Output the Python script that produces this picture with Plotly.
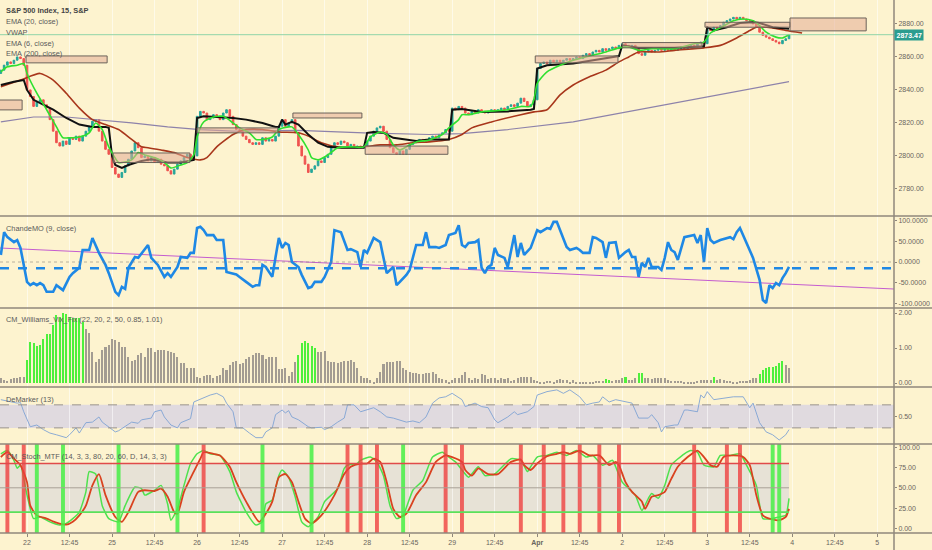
import plotly.graph_objects as go

# S&P 500, 15-minute bars. Bar 0-7 = end of the Mar 21 session, then 26 bars per session.
closes = [
    2852, 2855, 2857, 2856, 2858, 2860, 2859, 2855,
    # Mar 22
    2840, 2836, 2830, 2833, 2834, 2831, 2829, 2822, 2815, 2808, 2806, 2809, 2807,
    2811, 2810, 2812, 2809, 2812, 2815, 2818, 2821, 2822, 2815, 2809, 2804, 2801,
    # Mar 25
    2793, 2789, 2787, 2790, 2794, 2798, 2803, 2808, 2805, 2799, 2800, 2797, 2799,
    2796, 2798, 2795, 2794, 2791, 2789, 2792, 2795, 2797, 2799, 2801, 2799, 2800,
    # Mar 26
    2824, 2827, 2826, 2822, 2823, 2825, 2824, 2822, 2826, 2828, 2824, 2819, 2816,
    2815, 2812, 2810, 2808, 2807, 2808, 2807, 2811, 2809, 2810, 2809, 2812, 2818,
    # Mar 27
    2822, 2818, 2820, 2822, 2814, 2806, 2800, 2795, 2790, 2792, 2794, 2797, 2796,
    2799, 2801, 2805, 2808, 2807, 2809, 2808, 2806, 2807, 2805, 2806, 2805, 2806,
    # Mar 28
    2809, 2812, 2815, 2817, 2818, 2815, 2810, 2805, 2802, 2801, 2803, 2801, 2804,
    2807, 2808, 2809, 2810, 2809, 2810, 2811, 2812, 2811, 2813, 2814, 2816, 2815,
    # Mar 29
    2829, 2828, 2830, 2829, 2826, 2825, 2827, 2826, 2828, 2827, 2826, 2827, 2828,
    2827, 2828, 2829, 2828, 2830, 2831, 2830, 2832, 2835, 2833, 2830, 2831, 2834,
    # Apr 1
    2853, 2856, 2857, 2856, 2858, 2857, 2858, 2857, 2858, 2859, 2858, 2859, 2860,
    2859, 2861, 2862, 2861, 2863, 2864, 2863, 2865, 2864, 2865, 2866, 2865, 2867,
    # Apr 2
    2868, 2867, 2866, 2867, 2865, 2862, 2861, 2863, 2864, 2863, 2864, 2865, 2864,
    2865, 2864, 2865, 2864, 2865, 2866, 2865, 2866, 2867, 2866, 2868, 2869, 2868,
    # Apr 3
    2877, 2876, 2878, 2877, 2879, 2881, 2882, 2883, 2884, 2883, 2884, 2883, 2882,
    2882, 2880, 2878, 2875, 2873, 2872, 2871, 2870, 2869, 2868, 2870, 2871, 2873.47,
]
first_open = 2850
last_price = 2873.47

ema20_bar = [0, 6, 12, 16, 20, 24, 28, 32, 36, 40, 43, 45, 49, 53, 57, 61, 63, 66, 71, 75,
             80, 85, 91, 94, 98, 103, 111, 116, 121, 126, 131, 137, 141, 144, 150, 159, 163,
             167, 171, 175, 180, 185, 189, 192, 195, 201, 206, 215, 220, 225, 229, 231, 236,
             240, 245]
ema20_val = [2842, 2846, 2850, 2846, 2838, 2829, 2822, 2819, 2816, 2810, 2805.5, 2805, 2803.6,
             2802, 2799, 2797.6, 2799, 2805.5, 2813, 2816, 2816, 2814.5, 2814, 2812, 2808,
             2805.5, 2805.5, 2806.7, 2806.7, 2808, 2808.5, 2810, 2813, 2817, 2820.6, 2825,
             2826.7, 2828, 2837, 2843, 2848, 2852, 2857, 2860, 2863, 2863, 2864, 2865.5, 2867,
             2871.5, 2876, 2878, 2877.5, 2876, 2874.5]

ema6_bar = [0, 2, 5, 7, 8, 11, 14, 17, 19, 21, 24, 27, 29, 31, 33, 36, 37, 40, 42, 44, 47, 50,
            52, 55, 57, 59, 60, 62, 65, 68, 71, 73, 76, 78, 80, 83, 85, 88, 89, 91, 94, 95, 97,
            100, 103, 107, 111, 113, 116, 118, 120, 122, 124, 127, 131, 135, 137, 140, 141, 143,
            147, 155, 159, 162, 163, 164, 167, 171, 175, 180, 185, 189, 192, 195, 199, 206, 212,
            215, 217, 220, 224, 227, 230, 232, 234, 237, 239, 241]
ema6_val = [2851, 2854, 2855, 2856, 2850, 2838, 2828, 2817.6, 2811, 2811, 2811.5, 2814, 2820,
            2816, 2805.5, 2796, 2796, 2797.6, 2802, 2800.6, 2799, 2796, 2792.7, 2794.5, 2796,
            2800.6, 2811.5, 2820.6, 2823.6, 2824, 2820, 2817, 2814, 2810, 2810, 2811.5, 2816,
            2817.6, 2817.6, 2813, 2803.6, 2799, 2797.6, 2800.6, 2805, 2805.5, 2805.5, 2811.5,
            2814.5, 2813, 2806.7, 2803.6, 2805.5, 2808.5, 2809.7, 2813, 2817, 2822, 2825, 2825,
            2826.7, 2828, 2830, 2830, 2834, 2844, 2851, 2855, 2858, 2860.6, 2863, 2865.5, 2866,
            2864, 2865, 2865, 2868, 2869, 2874.5, 2877.6, 2882, 2883, 2882, 2879, 2875, 2872,
            2871.5, 2873.4]

vwap_bar = [0, 4, 7, 8, 10, 13, 16, 20, 24, 28, 32, 33, 34, 35, 37, 39, 43, 46, 51, 55, 58, 59,
            60, 62, 66, 71, 75, 80, 84, 85, 86, 87, 89, 91, 94, 97, 100, 104, 111, 112, 114, 117,
            120, 123, 127, 131, 136, 137, 138, 141, 147, 155, 162, 163, 164, 167, 175, 180, 188,
            189, 190, 195, 206, 215, 216, 218, 222, 226, 230, 232, 236, 241]
vwap_val = [2843, 2845, 2846, 2840, 2834, 2831, 2828, 2823, 2819, 2817.6, 2817.6, 2817, 2800,
            2794.5, 2792.7, 2794.5, 2797, 2798, 2796, 2796, 2797, 2797.6, 2823, 2824, 2823.6,
            2823, 2822, 2820, 2817.6, 2817.6, 2822, 2819, 2820.6, 2819, 2813, 2808, 2805.5, 2805,
            2805, 2814, 2814.5, 2814, 2811, 2810, 2809, 2810, 2810, 2810, 2828, 2828.5, 2826.7,
            2827, 2828, 2828.5, 2853, 2855, 2856, 2857.6, 2860, 2860.5, 2867, 2865.5, 2865.5,
            2866.5, 2878, 2876, 2878, 2880.6, 2881, 2880.6, 2878, 2877]

ema200_bar = [0, 10, 20, 30, 40, 51, 61, 71, 91, 111, 131, 141, 155, 175, 195, 214, 241]
ema200_val = [2820.6, 2823.6, 2823.6, 2822, 2820, 2817.6, 2816, 2815, 2815.5, 2814, 2813,
              2813.5, 2816, 2820.6, 2828, 2834.6, 2845]

# drawn supply / demand zones: (first bar, last bar, low, high)
zones = [
    (7.7, 32.5, 2856.4, 2860.6),
    (-5, 6.5, 2827.9, 2833.9),
    (34.3, 57.8, 2796, 2801.8),
    (60, 84.7, 2814, 2817),
    (89.3, 110.4, 2823, 2826),
    (111.4, 136.7, 2801, 2806),
    (163.4, 188.7, 2856.4, 2860.6),
    (190, 214.4, 2865.5, 2868.7),
    (215.3, 241.3, 2878, 2881),
    (241.3, 264.6, 2875.8, 2883.6),
]

cmo_bar = [0, 1, 2, 4, 5, 6, 8, 9, 10, 11, 12, 13, 14, 16, 17, 19, 21, 22, 24, 25, 27, 28, 30,
           32, 33, 35, 36, 37, 38, 39, 41, 42, 45, 46, 48, 50, 51, 52, 54, 55, 57, 58, 59, 60,
           61, 62, 63, 65, 66, 68, 69, 71, 72, 73, 74, 75, 77, 78, 79, 80, 81, 83, 84, 85, 86,
           87, 88, 89, 91, 92, 94, 95, 96, 98, 99, 101, 102, 104, 106, 107, 109, 110, 111, 112,
           114, 116, 117, 118, 120, 121, 122, 124, 125, 127, 129, 130, 131, 133, 134, 136, 137,
           139, 140, 141, 142, 143, 145, 146, 147, 148, 149, 150, 151, 152, 154, 155, 157, 158,
           159, 160, 162, 164, 165, 167, 168, 169, 170, 173, 174, 176, 177, 178, 180, 181, 182,
           184, 185, 186, 188, 189, 191, 192, 193, 194, 195, 196, 197, 198, 199, 201, 202, 203,
           204, 205, 206, 207, 209, 212, 213, 214, 215, 216, 217, 218, 220, 222, 223, 224, 225,
           226, 227, 230, 232, 233, 234, 235, 236, 237, 238, 239, 240, 241]
cmo_val = [17, 72, 60, 48, 53, 34, -48, -56, -51, -56, -51, -56, -72, -72, -56, -68, -36, -27,
           -14, 29, 29, 58, 22, -7, -27, -72, -80, -60, -65, -14, 12, 10, 41, 10, -7, -36, -27,
           -36, -12, 12, 10, 22, 22, 82, 85, 77, 65, 65, 53, 53, -24, -27, -30, -36, -43, -48,
           -60, -56, -56, -7, -12, -36, 12, 58, 34, 46, 41, 0, -12, -31, -63, -60, -48, -48, -36,
           0, 77, 72, 29, 31, 24, -12, 29, 22, 58, 48, 10, -27, -12, -56, -48, -31, -19, 41, 41,
           72, 36, 36, 34, 41, 65, 70, 89, 41, 36, 46, 48, 53, -14, -27, -12, -7, 34, 17, 10,
           -12, 65, 12, 46, 17, 34, 77, 72, 82, 80, 97, 97, 36, 29, 34, 29, 22, 22, 60, 58, 48,
           10, 46, 48, 10, 24, 29, 12, 12, -36, -2, -12, 10, -12, -12, -19, 10, 48, 29, 24, 5,
           60, 65, 46, 65, 0, 82, 53, 46, 53, 58, 60, 55, 72, 82, 65, 10, -43, -92, -99, -56,
           -63, -51, -56, -39, -27, -12]
cmo_signal = -15
cmo_trend = [(-0.26, 33.8), (273.1, -65.2)]

vix = [
    0.13, 0.09, 0.07, 0.11, 0.13, 0.15, 0.16, 0.18,
    0.66, 1.16, 1.13, 1.07, 1.10, 1.26, 1.39, 1.39, 1.66, 1.94,
    1.90, 1.99, 1.96, 1.90, 1.87, 1.85, 1.85, 1.75, 1.54, 1.42,
    0.90, 0.61, 0.70, 0.94, 1.04, 1.09, 1.26, 1.23, 1.18, 1.04,
    1.04, 0.75, 0.64, 0.66, 0.80, 0.85, 0.75, 1.01, 0.99, 0.90,
    0.94, 0.94, 0.94, 0.91, 0.88, 0.85, 0.75, 0.56, 0.56, 0.42,
    0.42, 0.44, 0.18, 0.13, 0.20, 0.23, 0.23, 0.13, 0.21, 0.23,
    0.42, 0.37, 0.51, 0.61, 0.63, 0.53, 0.56, 0.70, 0.73, 0.80,
    0.85, 0.87, 0.80, 0.70, 0.75, 0.73, 0.75, 0.40, 0.40, 0.42,
    0.20, 0.32, 0.61, 0.80, 1.14, 1.20, 1.15, 1.07, 0.99, 0.88,
    0.90, 0.91, 0.64, 0.61, 0.61, 0.56, 0.61, 0.64, 0.64, 0.66,
    0.61, 0.42, 0.20, 0.13, 0.13, 0.09, 0.04, 0.15, 0.32, 0.53,
    0.61, 0.61, 0.61, 0.63, 0.63, 0.42, 0.37, 0.32, 0.28, 0.28,
    0.25, 0.25, 0.28, 0.30, 0.32, 0.25, 0.13, 0.11, 0.09, 0.04,
    0.09, 0.13, 0.15, 0.23,
    0.32, 0.13, 0.09, 0.13, 0.11, 0.25, 0.23, 0.11, 0.15, 0.13,
    0.09, 0.15, 0.11, 0.13, 0.06, 0.09, 0.15, 0.18, 0.16, 0.18,
    0.16, 0.09, 0.06, 0.04, 0.04, 0.06, 0.06, 0.04, 0.09, 0.11,
    0.09, 0.09, 0.04, 0.09, 0.04, 0.04, 0.04, 0.04, 0.04, 0.04,
    0.06, 0.06, 0.06, 0.11, 0.09, 0.06, 0.09, 0.09, 0.13, 0.18,
    0.09, 0.09, 0.13, 0.28, 0.28, 0.13, 0.15, 0.11, 0.13, 0.15,
    0.13, 0.15, 0.09, 0.07, 0.07, 0.06, 0.06, 0.04, 0.04, 0.04,
    0.04, 0.06, 0.09, 0.09, 0.10, 0.09, 0.18, 0.09, 0.11, 0.09,
    0.07, 0.06, 0.04, 0.04, 0.06, 0.07, 0.07, 0.10, 0.13, 0.15,
    0.25, 0.37, 0.42, 0.45, 0.47, 0.50, 0.56, 0.63, 0.51, 0.44,
]
vix_alert = (list(range(8, 26)) + list(range(91, 97)) + [185, 186, 191, 195, 196, 218]
             + list(range(232, 240)))

dem_bar = [0, 3, 5, 6, 7, 9, 11, 13, 15, 17, 20, 21, 23, 24, 26, 28, 30, 31, 33, 35, 36, 38, 40,
           42, 43, 46, 47, 49, 50, 52, 54, 55, 57, 58, 59, 62, 64, 66, 68, 69, 71, 72, 74, 76,
           78, 80, 81, 83, 84, 86, 87, 88, 89, 91, 94, 95, 98, 99, 101, 103, 105, 106, 108, 110,
           112, 114, 116, 118, 120, 122, 124, 126, 128, 130, 132, 134, 136, 138, 140, 141, 142,
           145, 147, 149, 151, 152, 155, 157, 158, 161, 163, 164, 167, 170, 172, 174, 177, 179,
           181, 183, 184, 186, 188, 191, 193, 195, 198, 199, 201, 202, 203, 206, 207, 209, 210,
           213, 214, 215, 216, 218, 221, 224, 227, 229, 230, 232, 234, 236, 238, 240, 241]
dem_val = [0.79, 0.75, 0.73, 0.74, 0.58, 0.32, 0.35, 0.27, 0.21, 0.18, 0.13, 0.18, 0.30, 0.21,
           0.39, 0.40, 0.49, 0.40, 0.32, 0.23, 0.25, 0.32, 0.40, 0.38, 0.44, 0.47, 0.58, 0.61,
           0.49, 0.35, 0.30, 0.39, 0.44, 0.46, 0.75, 0.82, 0.87, 0.90, 0.84, 0.73, 0.58, 0.30,
           0.30, 0.21, 0.13, 0.13, 0.23, 0.30, 0.53, 0.61, 0.56, 0.60, 0.49, 0.44, 0.32, 0.30,
           0.31, 0.27, 0.32, 0.40, 0.47, 0.70, 0.70, 0.58, 0.61, 0.65, 0.58, 0.49, 0.47, 0.44,
           0.40, 0.42, 0.39, 0.49, 0.73, 0.82, 0.84, 0.90, 0.82, 0.79, 0.67, 0.73, 0.67, 0.65,
           0.44, 0.39, 0.49, 0.58, 0.53, 0.58, 0.67, 0.87, 0.93, 0.96, 0.90, 0.96, 0.84, 0.70,
           0.73, 0.75, 0.84, 0.75, 0.79, 0.75, 0.73, 0.47, 0.47, 0.53, 0.39, 0.23, 0.32, 0.35,
           0.35, 0.61, 0.61, 0.58, 0.87, 0.82, 0.93, 0.79, 0.82, 0.84, 0.84, 0.65, 0.73, 0.39,
           0.23, 0.18, 0.09, 0.18, 0.27]
dem_high, dem_low = 0.7, 0.3

k_bar = [0, 2, 4, 5, 6, 8, 10, 12, 15, 18, 20, 22, 24, 26, 27, 29, 31, 33, 36, 38, 41, 43, 44,
         47, 49, 51, 52, 54, 56, 58, 60, 62, 64, 67, 70, 72, 75, 78, 80, 81, 83, 85, 86, 88, 90,
         92, 94, 97, 99, 103, 105, 106, 109, 110, 113, 115, 117, 119, 121, 123, 126, 129, 132,
         135, 137, 139, 142, 143, 146, 148, 151, 156, 159, 161, 162, 164, 167, 170, 173, 176,
         179, 181, 184, 187, 188, 190, 192, 194, 196, 198, 199, 201, 203, 205, 209, 211, 213,
         215, 218, 220, 223, 226, 228, 231, 233, 236, 238, 240, 241]
k_val = [92, 96, 84, 74, 78, 41, 12, 14, 8, 4, 6, 12, 20, 45, 70, 67, 28, 12, 8, 28, 51, 49, 41,
         47, 53, 30, 10, 24, 53, 80, 92, 96, 92, 90, 70, 45, 20, 4, 8, 30, 35, 65, 72, 63, 39, 8,
         2, 14, 33, 49, 74, 78, 80, 84, 88, 82, 65, 28, 12, 16, 47, 59, 88, 94, 88, 82, 67, 63,
         76, 65, 67, 86, 84, 70, 76, 88, 90, 94, 90, 96, 88, 90, 78, 84, 76, 57, 49, 41, 22, 37,
         43, 37, 53, 78, 92, 96, 94, 78, 76, 90, 90, 92, 78, 53, 12, 12, 14, 16, 37]
d_bar = [0, 2, 4, 6, 8, 9, 11, 14, 17, 20, 22, 24, 26, 28, 30, 32, 35, 37, 39, 42, 44, 47, 49,
         51, 53, 54, 56, 59, 61, 62, 65, 67, 70, 72, 75, 79, 81, 83, 85, 87, 89, 91, 93, 95, 98,
         102, 105, 107, 110, 112, 114, 116, 118, 120, 122, 124, 127, 130, 133, 136, 138, 141,
         142, 144, 146, 149, 152, 156, 159, 160, 162, 164, 167, 170, 172, 174, 177, 180, 183,
         186, 188, 189, 191, 193, 196, 197, 199, 201, 203, 205, 207, 210, 213, 215, 217, 219,
         221, 224, 227, 229, 231, 233, 235, 238, 240, 241]
d_val = [88, 94, 86, 78, 57, 28, 16, 12, 7, 4.5, 8, 16, 28, 53, 67, 41, 14, 8, 20, 45, 47, 46,
         49, 39, 20, 18, 45, 70, 86, 94, 92, 90, 76, 57, 33, 8, 18, 33, 63, 67, 57, 33, 12, 6,
         16, 41, 67, 76, 80, 80, 86, 82, 57, 24, 14, 18, 41, 57, 82, 90, 88, 82, 72, 65, 74, 67,
         67, 82, 85, 78, 72, 80, 89, 92, 94, 92, 96, 90, 90, 78, 82, 78, 57, 45, 33, 24, 39, 41,
         45, 61, 76, 88, 96, 88, 78, 76, 88, 90, 88, 78, 41, 16, 12, 10, 14, 24]
stoch_upper, stoch_mid, stoch_lower = 80, 50, 20
stoch_cross_down = [2, 7, 62, 106, 110, 115, 136, 141, 159, 166, 172, 177, 183, 189, 212, 222, 226]
stoch_cross_up = [11, 19, 36, 54, 80, 95, 123, 236, 238]

tick_bars = [8, 21, 34, 47, 60, 73, 86, 99, 112, 125, 138, 151, 164, 177, 190, 203, 216, 229,
             242, 255, 268]
tick_text = ["22", "12:45", "25", "12:45", "26", "12:45", "27", "12:45", "28", "12:45", "29",
             "12:45", "<b>Apr</b>", "12:45", "2", "12:45", "3", "12:45", "4", "12:45", "5"]

# ---------------------------------------------------------------------------
BG = "#fdf3cf"
AXIS = "#8f877b"
TXT = "#6a655d"
FONT = "Liberation Sans, Arial, sans-serif"
W, H, B, R = 932, 550, 17, 38
PH = H - B


def py(pix):
    return 1 - pix / PH


pane_px = [0, 216, 308, 387, 444, PH]
ranges = [[2763.6, 2894.5], [-111.1, 111.1], [-0.114, 2.143], [0.02, 1.01], [-5.8, 104.1]]

bars = list(range(len(closes)))
opens = [first_open] + closes[:-1]
highs = [max(o, c) for o, c in zip(opens, closes)]
lows = [min(o, c) for o, c in zip(opens, closes)]

fig = go.Figure()

fig.add_trace(go.Candlestick(
    x=bars, open=opens, high=highs, low=lows, close=closes, yaxis="y",
    increasing=dict(line=dict(color="#26a69a", width=1), fillcolor="#26a69a"),
    decreasing=dict(line=dict(color="#ef5350", width=1), fillcolor="#ef5350"),
    whiskerwidth=0, hoverinfo="skip"))
fig.add_trace(go.Scatter(x=ema200_bar, y=ema200_val, mode="lines", yaxis="y",
                         line=dict(color="#8d82aa", width=1.2)))
fig.add_trace(go.Scatter(x=ema20_bar, y=ema20_val, mode="lines", yaxis="y",
                         line=dict(color="#a8361b", width=1.6, shape="spline", smoothing=0.6)))
fig.add_trace(go.Scatter(x=vwap_bar, y=vwap_val, mode="lines", yaxis="y",
                         line=dict(color="#111111", width=2)))
fig.add_trace(go.Scatter(x=ema6_bar, y=ema6_val, mode="lines", yaxis="y",
                         line=dict(color="#2fe02f", width=1.6, shape="spline", smoothing=0.6)))

# ChandeMO
fig.add_trace(go.Scatter(x=[p[0] for p in cmo_trend], y=[p[1] for p in cmo_trend],
                         mode="lines", yaxis="y2", line=dict(color="#c45ccf", width=1)))
fig.add_trace(go.Scatter(x=cmo_bar, y=cmo_val, mode="lines", yaxis="y2",
                         line=dict(color="#1e88e5", width=2.6)))

# Williams Vix Fix
fig.add_trace(go.Bar(x=bars, y=vix, yaxis="y3", width=0.62,
                     marker=dict(color=["#4ef03c" if i in vix_alert else "#a39c92" for i in bars],
                                 line=dict(width=0))))

# DeMarker
fig.add_trace(go.Scatter(x=dem_bar, y=dem_val, mode="lines", yaxis="y4",
                         line=dict(color="#7fa3d4", width=0.9)))

# Stochastic
last = bars[-1]
fig.add_trace(go.Scatter(x=k_bar, y=k_val, mode="lines", yaxis="y5",
                         line=dict(color="#4ee24e", width=1.5, shape="spline", smoothing=0.5)))
fig.add_trace(go.Scatter(x=d_bar, y=d_val, mode="lines", yaxis="y5",
                         line=dict(color="#d9421f", width=1.8, shape="spline", smoothing=0.6)))

shapes = []
# zones
for b0, b1, lo, hi in zones:
    shapes.append(dict(type="rect", xref="x", yref="y", x0=b0, x1=b1, y0=lo, y1=hi,
                       fillcolor="rgba(228,172,150,0.55)", line=dict(color="#6b625a", width=1)))
# last price line
shapes.append(dict(type="line", xref="paper", yref="y", x0=0, x1=1, y0=last_price,
                   y1=last_price, line=dict(color="#8fd4a8", width=1)))
# ChandeMO levels
shapes.append(dict(type="line", xref="paper", yref="y2", x0=0, x1=1, y0=0, y1=0,
                   line=dict(color="rgba(140,135,125,0.6)", width=1, dash="dot")))
shapes.append(dict(type="line", xref="paper", yref="y2", x0=0, x1=1, y0=cmo_signal,
                   y1=cmo_signal, line=dict(color="#1e88e5", width=2.6, dash="dash")))
# DeMarker band
shapes.append(dict(type="rect", xref="paper", yref="y4", x0=0, x1=1, y0=dem_low, y1=dem_high,
                   fillcolor="rgba(180,180,248,0.4)", line=dict(width=0), layer="below"))
for lv in (dem_low, dem_high):
    shapes.append(dict(type="line", xref="paper", yref="y4", x0=0, x1=1, y0=lv, y1=lv,
                       line=dict(color="#9a948c", width=1, dash="dash")))
# Stoch band and levels
shapes.append(dict(type="rect", xref="x", yref="y5", x0=-1, x1=last, y0=stoch_lower,
                   y1=stoch_upper, fillcolor="rgba(183,190,233,0.3)", line=dict(width=0),
                   layer="below"))
for b in stoch_cross_down:
    shapes.append(dict(type="rect", xref="x", yref="y5 domain", x0=b - 0.6, x1=b + 0.6, y0=0,
                       y1=1, fillcolor="rgba(238,60,60,0.78)", line=dict(width=0)))
for b in stoch_cross_up:
    shapes.append(dict(type="rect", xref="x", yref="y5 domain", x0=b - 0.6, x1=b + 0.6, y0=0,
                       y1=1, fillcolor="rgba(70,238,70,0.85)", line=dict(width=0)))
for lv, col in ((stoch_upper, "#e04a4a"), (stoch_mid, "#a8a196"), (stoch_lower, "#5ae05a")):
    shapes.append(dict(type="line", xref="x", yref="y5", x0=-1, x1=last, y0=lv, y1=lv,
                       line=dict(color=col, width=1.6 if lv != stoch_mid else 1)))
# pane separators and price-axis line
for p in pane_px[1:]:
    shapes.append(dict(type="line", xref="paper", yref="paper", x0=0, x1=W / (W - R),
                       y0=py(p), y1=py(p), line=dict(color=AXIS, width=1.5)))
shapes.append(dict(type="line", xref="paper", yref="paper", x0=1, x1=1, y0=-B / PH, y1=1,
                   line=dict(color=AXIS, width=1.5)))

annotations = []
titles = [("<b>S&P 500 Index, 15, S&P</b>", 10.5, "#444444"), ("EMA (20, close)", 21.5, "#5a5a5a"),
          ("VWAP", 32, "#5a5a5a"), ("EMA (6, close)", 43, "#5a5a5a"),
          ("EMA (200, close)", 53.5, "#5a5a5a"), ("ChandeMO (9, close)", 228, "#5a5a5a"),
          ("CM_Williams_Vix_Fix (22, 20, 2, 50, 0.85, 1.01)", 319, "#5a5a5a"),
          ("DeMarker (13)", 399, "#5a5a5a"),
          ("CM_Stoch_MTF (14, 3, 3, 80, 20, 60, D, 14, 3, 3)", 456, "#5a5a5a")]
for text, ypix, col in titles:
    annotations.append(dict(text=text, xref="paper", yref="paper", x=4 / (W - R), y=py(ypix),
                            xanchor="left", yanchor="middle", showarrow=False,
                            font=dict(family=FONT, size=7.4, color=col)))
annotations.append(dict(text="<b>%.2f</b>" % last_price, xref="paper", yref="y", x=1,
                        y=last_price, xanchor="left", yanchor="middle", showarrow=False,
                        bgcolor="#2a9d8f", borderpad=1.5,
                        font=dict(family=FONT, size=7, color="white")))

ytick = [
    ([2780, 2800, 2820, 2840, 2860, 2880], "%.2f"),
    ([-100, -50, 0, 50, 100], "%.4f"),
    ([0, 1, 2], "%.2f"),
    ([0.5], "%.2f"),
    ([0, 25, 50, 75, 100], "%.2f"),
]

layout = dict(
    width=W, height=H, margin=dict(l=0, r=R, t=0, b=B),
    paper_bgcolor=BG, plot_bgcolor=BG, showlegend=False, bargap=0,
    font=dict(family=FONT, size=7, color=TXT),
    shapes=shapes, annotations=annotations,
    xaxis=dict(domain=[0, 1], range=[-0.26, 273.1], anchor="y5", tickmode="array",
               tickvals=tick_bars, ticktext=tick_text, showgrid=True,
               gridcolor="rgba(255,255,255,0.55)", gridwidth=1, zeroline=False,
               ticks="outside", ticklen=3, tickcolor=AXIS, showline=False,
               tickfont=dict(family=FONT, size=7, color=TXT),
               rangeslider=dict(visible=False), fixedrange=True),
)
for i in range(5):
    name = "yaxis" if i == 0 else "yaxis%d" % (i + 1)
    vals, fmt = ytick[i]
    layout[name] = dict(
        domain=[py(pane_px[i + 1]), py(pane_px[i])], range=ranges[i], anchor="x",
        side="right", tickmode="array", tickvals=vals, ticktext=[fmt % v for v in vals],
        showgrid=False, zeroline=False, showline=False, ticks="outside", ticklen=2,
        tickcolor=AXIS, tickfont=dict(family=FONT, size=7, color=TXT), fixedrange=True)

fig.update_layout(**layout)
# drop the browser's default page margin so the chart fills the window
fig.write_html("out.html", config={"displayModeBar": False},
               post_script="document.body.style.margin='0';")
